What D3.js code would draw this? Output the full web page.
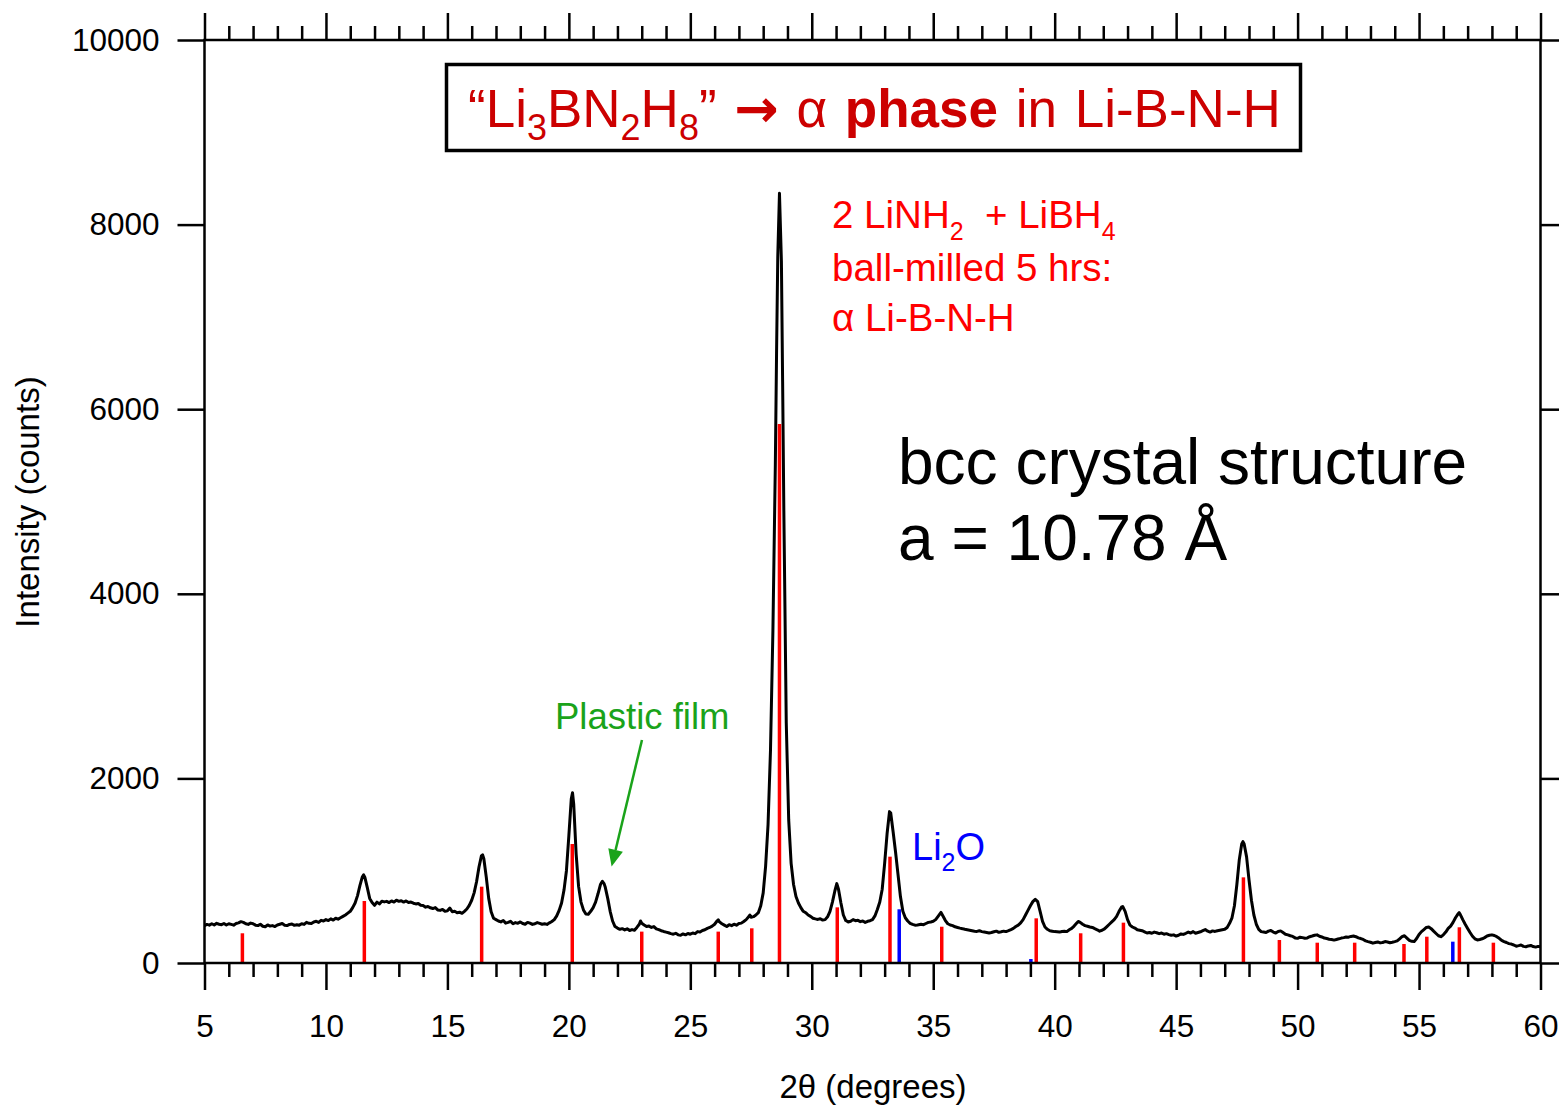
<!DOCTYPE html>
<html>
<head>
<meta charset="utf-8">
<script src="https://cdn.jsdelivr.net/npm/d3@7"></script>
<style>
  body { margin: 0; background: #fff; }
  svg { display: block; font-family: "Liberation Sans", Arial, sans-serif; }
  text { white-space: pre; }
</style>
</head>
<body>
<svg id="chart" width="1559" height="1106"></svg>
<script>
// Measured powder pattern: [2θ (deg), intensity (counts)]
const scan = [
  [5.0,405],[5.1,418],[5.2,410],[5.3,425],[5.4,412],[5.5,430],[5.6,420],[5.7,415],[5.8,428],[5.9,412],
  [6.0,425],[6.1,418],[6.2,410],[6.3,428],[6.4,435],[6.5,448],[6.6,440],[6.7,425],[6.8,418],[6.9,432],
  [7.0,425],[7.1,410],[7.2,405],[7.3,420],[7.4,398],[7.5,392],[7.6,412],[7.7,400],[7.8,405],[7.9,395],
  [8.0,412],[8.1,420],[8.2,428],[8.3,410],[8.4,405],[8.5,418],[8.6,422],[8.7,408],[8.8,415],[8.9,410],
  [9.0,425],[9.1,418],[9.2,440],[9.3,430],[9.4,428],[9.5,445],[9.6,452],[9.7,440],[9.8,462],[9.9,455],
  [10.0,470],[10.1,460],[10.2,478],[10.3,465],[10.4,485],[10.5,475],[10.6,490],[10.7,505],[10.8,520],[10.9,540],
  [11.0,560],[11.1,600],[11.2,650],[11.3,730],[11.4,840],[11.5,935],[11.55,955],[11.6,930],[11.7,820],[11.8,700],
  [11.9,655],[12.0,625],[12.1,660],[12.2,640],[12.3,670],[12.4,662],[12.5,668],[12.6,655],[12.7,672],[12.8,660],
  [12.9,680],[13.0,668],[13.1,675],[13.2,660],[13.3,672],[13.4,655],[13.5,660],[13.6,648],[13.7,640],[13.8,645],
  [13.9,625],[14.0,622],[14.1,605],[14.2,612],[14.3,598],[14.4,590],[14.5,600],[14.6,575],[14.7,570],[14.8,580],
  [14.9,560],[15.0,565],[15.1,595],[15.2,555],[15.3,560],[15.4,545],[15.5,550],[15.6,538],[15.7,560],[15.8,585],
  [15.9,625],[16.0,680],[16.1,760],[16.2,880],[16.3,1040],[16.4,1160],[16.45,1172],[16.5,1130],[16.6,930],[16.7,700],
  [16.8,555],[16.9,485],[17.0,470],[17.1,455],[17.2,445],[17.3,460],[17.4,432],[17.5,440],[17.6,452],[17.7,425],
  [17.8,438],[17.9,430],[18.0,445],[18.1,428],[18.2,420],[18.3,440],[18.4,432],[18.5,418],[18.6,425],[18.7,438],
  [18.8,430],[18.9,420],[19.0,425],[19.1,418],[19.2,435],[19.3,450],[19.4,470],[19.5,510],[19.6,570],[19.7,650],
  [19.8,790],[19.9,1000],[20.0,1380],[20.1,1780],[20.15,1845],[20.2,1720],[20.3,1180],[20.4,830],[20.5,660],[20.6,575],
  [20.7,530],[20.8,528],[20.9,560],[21.0,600],[21.1,660],[21.2,750],[21.3,850],[21.38,885],[21.45,860],[21.5,820],
  [21.6,700],[21.7,560],[21.8,455],[21.9,395],[22.0,378],[22.1,365],[22.2,372],[22.3,358],[22.4,370],[22.5,352],
  [22.6,362],[22.7,355],[22.8,385],[22.9,420],[22.95,455],[23.0,430],[23.1,412],[23.2,395],[23.3,400],[23.4,385],
  [23.5,395],[23.6,370],[23.7,362],[23.8,350],[23.9,342],[24.0,335],[24.1,328],[24.2,318],[24.3,312],[24.4,322],
  [24.5,305],[24.6,300],[24.7,315],[24.8,305],[24.9,320],[25.0,312],[25.1,325],[25.2,318],[25.3,340],[25.4,335],
  [25.5,352],[25.6,360],[25.7,375],[25.8,385],[25.9,400],[26.0,420],[26.1,455],[26.15,468],[26.2,445],[26.3,425],
  [26.4,410],[26.5,395],[26.6,415],[26.7,405],[26.8,420],[26.9,410],[27.0,428],[27.1,432],[27.2,450],[27.3,470],
  [27.4,500],[27.45,520],[27.5,495],[27.6,502],[27.7,520],[27.8,545],[27.9,620],[28.0,760],[28.1,1050],[28.2,1500],
  [28.3,2300],[28.4,3600],[28.5,5400],[28.55,6600],[28.6,7650],[28.67,8340],[28.75,7600],[28.8,6300],[28.85,4900],[28.95,2600],
  [29.05,1550],[29.15,1080],[29.25,850],[29.35,720],[29.45,650],[29.55,600],[29.65,560],[29.75,545],[29.85,520],[29.95,505],
  [30.05,485],[30.15,478],[30.25,472],[30.35,480],[30.45,465],[30.55,470],[30.65,500],[30.75,560],[30.85,660],[30.95,780],
  [31.03,860],[31.1,800],[31.2,650],[31.3,520],[31.4,460],[31.5,445],[31.6,452],[31.7,470],[31.8,458],[31.9,462],
  [32.0,448],[32.1,455],[32.2,440],[32.3,452],[32.4,458],[32.5,470],[32.6,510],[32.7,580],[32.8,660],[32.9,800],
  [33.0,1080],[33.1,1400],[33.2,1640],[33.25,1625],[33.35,1420],[33.45,1200],[33.55,960],[33.65,720],[33.75,560],[33.85,490],
  [33.95,455],[34.05,430],[34.15,418],[34.25,410],[34.35,412],[34.5,420],[34.6,415],[34.7,428],[34.8,440],[34.9,445],
  [35.0,452],[35.1,470],[35.2,505],[35.32,548],[35.4,510],[35.5,460],[35.6,425],[35.7,412],[35.8,405],[35.9,392],
  [36.0,385],[36.1,378],[36.2,372],[36.3,365],[36.4,360],[36.5,355],[36.6,350],[36.7,345],[36.8,342],[36.9,350],
  [37.0,340],[37.1,335],[37.2,330],[37.3,325],[37.4,330],[37.5,338],[37.6,345],[37.7,332],[37.8,338],[37.9,345],
  [38.0,340],[38.1,350],[38.2,362],[38.3,375],[38.4,395],[38.5,410],[38.6,435],[38.7,470],[38.8,520],[38.9,570],
  [39.0,620],[39.1,665],[39.2,690],[39.3,665],[39.4,560],[39.5,450],[39.6,390],[39.7,365],[39.8,350],[39.9,345],
  [40.0,340],[40.1,338],[40.2,335],[40.3,342],[40.4,345],[40.5,340],[40.6,360],[40.7,375],[40.8,400],[40.9,430],
  [40.97,450],[41.05,440],[41.15,420],[41.25,405],[41.35,398],[41.45,390],[41.55,385],[41.65,372],[41.75,360],[41.85,345],
  [41.95,355],[42.05,370],[42.15,395],[42.25,420],[42.35,445],[42.45,470],[42.55,505],[42.65,560],[42.75,605],[42.8,612],
  [42.9,560],[43.0,470],[43.1,410],[43.2,390],[43.3,378],[43.4,360],[43.5,355],[43.6,350],[43.7,338],[43.8,325],
  [43.9,330],[44.0,322],[44.1,335],[44.2,328],[44.3,318],[44.4,325],[44.5,312],[44.6,318],[44.7,308],[44.8,300],
  [44.9,305],[45.0,292],[45.1,300],[45.2,315],[45.3,310],[45.4,322],[45.5,335],[45.6,325],[45.7,340],[45.8,322],
  [45.9,330],[46.0,338],[46.1,350],[46.2,362],[46.3,345],[46.4,335],[46.5,348],[46.6,342],[46.7,350],[46.8,355],
  [46.9,360],[47.0,365],[47.1,385],[47.2,430],[47.3,490],[47.4,620],[47.5,850],[47.6,1120],[47.7,1290],[47.75,1315],
  [47.8,1290],[47.9,1150],[48.0,900],[48.1,680],[48.2,520],[48.3,420],[48.4,365],[48.5,340],[48.6,335],[48.7,330],
  [48.8,345],[48.9,352],[49.0,335],[49.1,325],[49.2,342],[49.3,348],[49.4,330],[49.5,312],[49.6,305],[49.7,295],
  [49.8,288],[49.9,272],[50.0,268],[50.1,280],[50.2,275],[50.3,268],[50.4,272],[50.5,285],[50.6,292],[50.7,300],
  [50.8,305],[50.9,290],[51.0,282],[51.1,270],[51.2,265],[51.3,258],[51.4,255],[51.5,248],[51.6,255],[51.7,262],
  [51.8,270],[51.9,275],[52.0,282],[52.1,280],[52.2,288],[52.3,292],[52.4,285],[52.5,272],[52.6,265],[52.7,255],
  [52.8,240],[52.9,232],[53.0,225],[53.1,215],[53.2,222],[53.3,228],[53.4,218],[53.5,222],[53.6,232],[53.7,228],
  [53.8,220],[53.9,225],[54.0,232],[54.1,240],[54.2,262],[54.3,285],[54.4,295],[54.5,270],[54.6,245],[54.7,235],
  [54.8,232],[54.9,265],[55.0,310],[55.1,340],[55.2,362],[55.3,385],[55.4,390],[55.5,372],[55.6,345],[55.7,320],
  [55.8,295],[55.9,285],[56.0,305],[56.1,335],[56.2,375],[56.3,400],[56.4,440],[56.5,490],[56.6,530],[56.65,545],
  [56.7,525],[56.8,470],[56.9,420],[57.0,375],[57.1,330],[57.2,290],[57.3,262],[57.4,250],[57.5,255],[57.6,262],
  [57.7,275],[57.8,292],[57.9,300],[58.0,305],[58.1,298],[58.2,285],[58.3,268],[58.4,245],[58.5,232],[58.6,222],
  [58.7,210],[58.8,205],[58.9,195],[59.0,182],[59.1,188],[59.2,195],[59.3,180],[59.4,176],[59.5,185],[59.6,190],
  [59.7,178],[59.8,172],[59.9,180],[60.0,176]
];

// Calculated reflections of the bcc α Li-B-N-H phase: [2θ, intensity]
const alphaSticks = [
  [6.56,322],[11.58,672],[16.41,827],[20.14,1289],[23.0,340],[26.15,340],[27.53,376],[28.67,5840],
  [31.05,603],[33.22,1152],[35.35,393],[39.24,484],[41.07,322],[42.83,437],[47.77,928],[49.25,249],
  [50.81,220],[52.35,220],[54.38,206],[55.32,285],[56.66,387],[58.06,220]
];

// Li2O reflections: [2θ, intensity]
const li2oSticks = [[33.6,582],[39.02,43],[56.39,231]];

const xMajorTicks = [5,10,15,20,25,30,35,40,45,50,55,60];
const xMinorTicks = d3.range(5,61,1).filter(v => v % 5 !== 0);
const yTicks = [0,2000,4000,6000,8000,10000];

const svg = d3.select("#chart");
const FONT = '"Liberation Sans", Arial, sans-serif';

const x = d3.scaleLinear().domain([5,60]).range([204.5,1540.5]);
const y = d3.scaleLinear().domain([0,10000]).range([963,40]);

function styleAxis(g) {
  g.attr("font-family", FONT).attr("font-size", 31.5);
  g.select(".domain").remove();
  g.selectAll(".tick line").attr("stroke", "#000").attr("stroke-width", 2.5);
  g.selectAll(".tick text").attr("fill", "#000");
}
const noLabel = () => "";

// bottom axis
svg.append("g").attr("transform", `translate(0,${y(0)})`)
  .call(d3.axisBottom(x).tickValues(xMinorTicks).tickSize(14).tickFormat(noLabel)).call(styleAxis);
svg.append("g").attr("transform", `translate(0,${y(0)})`)
  .call(d3.axisBottom(x).tickValues(xMajorTicks).tickSize(27).tickPadding(25).tickFormat(d3.format("d"))).call(styleAxis);
// top axis
svg.append("g").attr("transform", `translate(0,${y(10000)})`)
  .call(d3.axisTop(x).tickValues(xMinorTicks).tickSize(14).tickFormat(noLabel)).call(styleAxis);
svg.append("g").attr("transform", `translate(0,${y(10000)})`)
  .call(d3.axisTop(x).tickValues(xMajorTicks).tickSize(27).tickFormat(noLabel)).call(styleAxis);
// left axis
svg.append("g").attr("transform", `translate(${x(5)},0)`)
  .call(d3.axisLeft(y).tickValues(yTicks).tickSize(27).tickPadding(18).tickFormat(d3.format("d"))).call(styleAxis);
// right axis
svg.append("g").attr("transform", `translate(${x(60)},0)`)
  .call(d3.axisRight(y).tickValues(yTicks).tickSize(27).tickFormat(noLabel)).call(styleAxis);

// pattern
svg.append("path").datum(scan)
  .attr("d", d3.line().x(d => x(d[0])).y(d => y(d[1])))
  .attr("fill", "none").attr("stroke", "#000").attr("stroke-width", 3)
  .attr("stroke-linejoin", "round");

// reflection sticks
function sticks(data, color) {
  svg.append("g").selectAll("line").data(data).join("line")
    .attr("x1", d => x(d[0])).attr("x2", d => x(d[0]))
    .attr("y1", y(0)).attr("y2", d => y(d[1]))
    .attr("stroke", color).attr("stroke-width", 3.5);
}
sticks(alphaSticks, "#ff0000");
sticks(li2oSticks, "#0000ff");

// plot frame
svg.append("rect")
  .attr("x", x(5)).attr("y", y(10000))
  .attr("width", x(60) - x(5)).attr("height", y(0) - y(10000))
  .attr("fill", "none").attr("stroke", "#000").attr("stroke-width", 2.5);

// axis titles
svg.append("text").attr("x", 873).attr("y", 1098).attr("text-anchor", "middle")
  .attr("font-family", FONT).attr("font-size", 33).text("2θ (degrees)");
svg.append("text").attr("transform", "translate(39,502) rotate(-90)").attr("text-anchor", "middle")
  .attr("font-family", FONT).attr("font-size", 33).text("Intensity (counts)");

// title box
svg.append("rect").attr("x", 446.5).attr("y", 64.5).attr("width", 854).attr("height", 86)
  .attr("fill", "#fff").attr("stroke", "#000").attr("stroke-width", 3.5);
const title = svg.append("text").attr("x", 468).attr("y", 127)
  .attr("font-family", FONT).attr("font-size", 53).attr("fill", "#cc0000")
  .attr("word-spacing", 3);
title.append("tspan").text("“Li");
title.append("tspan").attr("font-size", 36).attr("dy", 13).text("3");
title.append("tspan").attr("dy", -13).text("BN");
title.append("tspan").attr("font-size", 36).attr("dy", 13).text("2");
title.append("tspan").attr("dy", -13).text("H");
title.append("tspan").attr("font-size", 36).attr("dy", 13).text("8");
title.append("tspan").attr("dy", -13).text("” ");
title.append("tspan").attr("font-family", '"DejaVu Sans", sans-serif').attr("font-weight", "bold").text("→");
title.append("tspan").text(" α ");
title.append("tspan").attr("font-weight", "bold").text("phase");
title.append("tspan").text(" in Li-B-N-H");

// sample description
const desc = svg.append("text").attr("font-family", FONT).attr("font-size", 38.5).attr("fill", "#ff0000");
const l1 = desc.append("tspan").attr("x", 832).attr("y", 228);
l1.append("tspan").text("2 LiNH");
l1.append("tspan").attr("font-size", 25).attr("dy", 12).text("2");
l1.append("tspan").attr("dy", -12).text("  + LiBH");
l1.append("tspan").attr("font-size", 25).attr("dy", 12).text("4");
desc.append("tspan").attr("x", 832).attr("y", 281).text("ball-milled 5 hrs:");
desc.append("tspan").attr("x", 832).attr("y", 331).text("α Li-B-N-H");

// structure note
const note = svg.append("text").attr("font-family", FONT).attr("font-size", 64).attr("fill", "#000");
note.append("tspan").attr("x", 898).attr("y", 484).text("bcc crystal structure");
note.append("tspan").attr("x", 898).attr("y", 560).text("a = 10.78 Å");

// Li2O label
const li2o = svg.append("text").attr("x", 912).attr("y", 860)
  .attr("font-family", FONT).attr("font-size", 38).attr("fill", "#0000ff");
li2o.append("tspan").text("Li");
li2o.append("tspan").attr("font-size", 25).attr("dy", 11).text("2");
li2o.append("tspan").attr("dy", -11).text("O");

// plastic film label and pointer
const green = "#1aa31a";
svg.append("text").attr("x", 555).attr("y", 729)
  .attr("font-family", FONT).attr("font-size", 36.5).attr("fill", green).text("Plastic film");
const a0 = [x(23.01), y(2416)], a1 = [x(21.76), y(1045)];
const ang = Math.atan2(a1[1] - a0[1], a1[0] - a0[0]);
const headLen = 17, headHalf = 7.5;
const base = [a1[0] - headLen * Math.cos(ang), a1[1] - headLen * Math.sin(ang)];
svg.append("line").attr("x1", a0[0]).attr("y1", a0[1]).attr("x2", base[0]).attr("y2", base[1])
  .attr("stroke", green).attr("stroke-width", 2.5);
svg.append("polygon").attr("fill", green).attr("points", [
  a1,
  [base[0] + headHalf * Math.sin(ang), base[1] - headHalf * Math.cos(ang)],
  [base[0] - headHalf * Math.sin(ang), base[1] + headHalf * Math.cos(ang)]
].map(p => p.join(",")).join(" "));
</script>
</body>
</html>
